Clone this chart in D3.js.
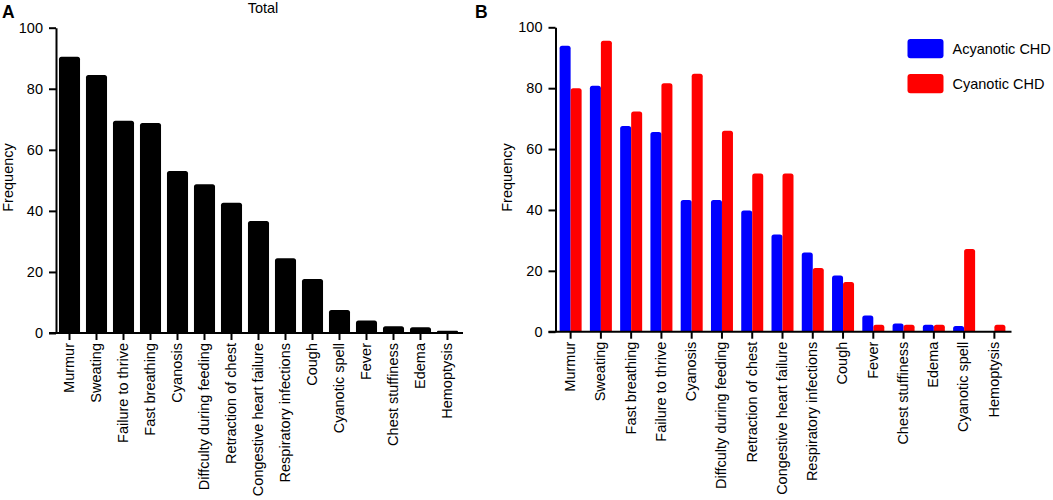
<!DOCTYPE html>
<html>
<head>
<meta charset="utf-8">
<script src="https://cdn.jsdelivr.net/npm/d3@7"></script>
<style>
  body { margin: 0; background: #fff; }
  svg { display: block; font-family: 'Liberation Sans', Arial, sans-serif; }
</style>
</head>
<body>
<div id="chart"></div>
<script>
// data
// -----------------------------------------------
let totalCats = ['Murmur', 'Sweating', 'Failure to thrive', 'Fast breathing', 'Cyanosis',
  'Diffculty during feeding', 'Retraction of chest', 'Congestive heart failure',
  'Respiratory infections', 'Cough', 'Cyanotic spell', 'Fever', 'Chest stuffiness',
  'Edema', 'Hemoptysis'];
let totalVals = [90.5, 84.5, 69.5, 68.8, 53.1, 48.7, 42.7, 36.7, 24.5, 17.7, 7.5, 4.1, 2.2, 1.9, 0.7];

let groupCats = ['Murmur', 'Sweating', 'Fast breathing', 'Failure to thrive', 'Cyanosis',
  'Diffculty during feeding', 'Retraction of chest', 'Congestive heart failure',
  'Respiratory infections', 'Cough', 'Fever', 'Chest stuffiness', 'Edema',
  'Cyanotic spell', 'Hemoptysis'];
let seriesNames = ['Acyanotic CHD', 'Cyanotic CHD'];
let acyanotic = [93.9, 80.8, 67.6, 65.6, 43.3, 43.3, 39.8, 31.9, 26.0, 18.5, 5.3, 2.7, 2.3, 1.9, 0];
let cyanotic = [80.0, 95.6, 72.3, 81.6, 84.7, 66.0, 52.0, 52.0, 20.9, 16.3, 2.3, 2.3, 2.3, 27.2, 2.3];
let yTicks = [0, 20, 40, 60, 80, 100];

// -----------------------------------------------
const W = 1053, H = 500;
const tickLen = 7;
const fontSize = '14.5px';
const colors = ['#0000ff', '#ff0000'];

const svg = d3.select('#chart').append('svg')
  .attr('width', W).attr('height', H)
  .attr('viewBox', [0, 0, W, H]);

// bar with slightly rounded top corners
let barPath = (x0, w, yTop, yBase, r) => {
  r = Math.min(r, w / 2, (yBase - yTop) / 2);
  return `M${x0},${yBase}V${yTop + r}Q${x0},${yTop} ${x0 + r},${yTop}` +
    `H${x0 + w - r}Q${x0 + w},${yTop} ${x0 + w},${yTop + r}V${yBase}Z`;
};

let axes = (g, x, y, left, right) => {
  // y axis
  g.append('g')
    .attr('transform', `translate(${left},0)`)
    .call(d3.axisLeft(y).tickValues(yTicks).tickSize(tickLen).tickPadding(6).tickSizeOuter(0))
    .call((g) => g.selectAll('line, path').attr('stroke', '#000').attr('stroke-width', 2))
    .call((g) => g.selectAll('text').attr('font-size', fontSize).attr('fill', '#000'));

  // x axis
  const gx = g.append('g')
    .attr('transform', `translate(0,${y(0)})`)
    .call(d3.axisBottom(x).tickSize(tickLen).tickSizeOuter(0))
    .call((g) => g.select('.domain').remove())
    .call((g) => g.selectAll('line').attr('stroke', '#000').attr('stroke-width', 2))
    .call((g) => g.selectAll('text')
      .attr('font-size', fontSize)
      .attr('fill', '#000')
      .attr('text-anchor', 'end')
      .attr('transform', 'rotate(-90)')
      .attr('x', -10)
      .attr('y', 0)
      .attr('dy', '0.3em'));
  gx.append('line')
    .attr('x1', left - tickLen).attr('x2', right + 2)
    .attr('stroke', '#000').attr('stroke-width', 2);
};

let yLabel = (g, x, yMid) => {
  g.append('text')
    .attr('transform', `translate(${x},${yMid}) rotate(-90)`)
    .attr('text-anchor', 'middle')
    .attr('font-size', fontSize)
    .text('Frequency');
};

// -----------------------------------------------
// panel A : total
{
  const left = 56, right = 461;
  const x = d3.scaleBand().domain(totalCats).range([left, right])
    .paddingInner(0.22).paddingOuter(0.11);
  const y = d3.scaleLinear().domain([0, 100]).range([333, 27.7]);
  const g = svg.append('g');

  g.append('g').attr('fill', '#000')
    .selectAll('path')
    .data(totalVals)
    .join('path')
    .attr('d', (d, i) => barPath(x(totalCats[i]), x.bandwidth(), y(d), y(0), 2.5));

  axes(g, x, y, left, right);
  yLabel(g, 12.5, 177.5);

  g.append('text').attr('x', 263).attr('y', 12.5)
    .attr('text-anchor', 'middle').attr('font-size', fontSize).text('Total');
  g.append('text').attr('x', 2).attr('y', 17.5)
    .attr('font-size', '17.5px').attr('font-weight', 'bold').text('A');
}

// -----------------------------------------------
// panel B : acyanotic vs cyanotic
{
  const left = 555.5, right = 1009.5;
  const x = d3.scaleBand().domain(groupCats).range([left, right])
    .paddingInner(0.273).paddingOuter(0.136);
  const xs = d3.scaleBand().domain(seriesNames).range([0, x.bandwidth()]);
  const y = d3.scaleLinear().domain([0, 100]).range([331.7, 27.3]);
  const g = svg.append('g');

  const series = [acyanotic, cyanotic];
  series.forEach((vals, s) => {
    g.append('g').attr('fill', colors[s])
      .selectAll('path')
      .data(vals.map((v, i) => ({ cat: groupCats[i], v })).filter((d) => d.v > 0))
      .join('path')
      .attr('d', (d) => barPath(x(d.cat) + xs(seriesNames[s]), xs.bandwidth(), y(d.v), y(0), 2.5));
  });

  axes(g, x, y, left, right);
  yLabel(g, 512, 177.5);

  g.append('text').attr('x', 475).attr('y', 17.5)
    .attr('font-size', '17.5px').attr('font-weight', 'bold').text('B');

  // legend
  const lg = g.append('g').attr('transform', 'translate(907.5,39)');
  seriesNames.forEach((name, i) => {
    lg.append('rect')
      .attr('x', 0).attr('y', i * 35)
      .attr('width', 36).attr('height', 19.3)
      .attr('rx', 3)
      .attr('fill', colors[i]);
    lg.append('text')
      .attr('x', 45).attr('y', i * 35 + 9.7)
      .attr('dy', '0.35em')
      .attr('font-size', fontSize)
      .text(name);
  });
}
</script>
</body>
</html>
